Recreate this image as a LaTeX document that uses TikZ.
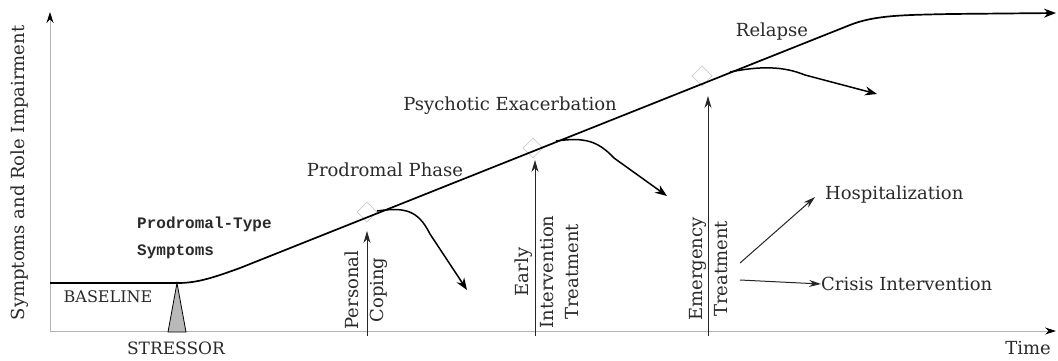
\documentclass[tikz,border=0pt]{standalone}
\usepackage{fontspec}
\setmainfont{DejaVu Serif}
\newfontfamily\monofam{Liberation Mono}
\usetikzlibrary{arrows.meta}
\definecolor{txt}{HTML}{2a2a2a}
\begin{document}
\begin{tikzpicture}[x=1pt,y=-1pt,
  lbl/.style={text=txt,inner sep=0pt,font=\fontsize{18}{25}\selectfont},
  monolbl/.style={text=txt,inner sep=0pt,font=\monofam\bfseries\fontsize{16}{27}\selectfont},
  rlbl/.style={lbl,rotate=90,align=center},
  axis/.style={gray!60,line width=0.8pt,-{Stealth[black,length=11pt,width=7pt]}},
  curve/.style={black,line width=1.7pt},
  arr/.style={black,line width=1.5pt,-{Stealth[length=12pt,width=9pt]}},
  varr/.style={black!85,line width=1pt,-{Stealth[length=12pt,width=7pt]}},
  diamark/.style={draw=gray!40,line width=0.8pt,shape=rectangle,rotate=45,minimum size=14pt,inner sep=0pt}
]
\useasboundingbox (0,0) rectangle (1058,360);
\fill[white] (0,0) rectangle (1058,360);
% axes
\coordinate (O) at (50,331);
\coordinate (ytop) at (50,12);
\coordinate (xend) at (1056,331);
\draw[axis] (O) -- (ytop);
\draw[axis] (O) -- (xend);
% diamonds
\node[diamark] (d1) at (367,212) {};
\node[diamark] (d2) at (533,148) {};
\node[diamark] (d3) at (702,76) {};
% main curve
\coordinate (b0) at (50,283);
\coordinate (b1) at (178,283);
\coordinate (c1) at (850,25);
\coordinate (cend) at (1056,13);
\draw[curve,-{Stealth[length=12pt,width=9pt]}] (b0) -- (b1) .. controls (198,283) and (215,277) .. (240,268) -- (c1) .. controls (875,15) and (905,15) .. (950,14) -- (cend);
% branches
\coordinate (e1) at (467,290);
\coordinate (e2) at (667,196);
\coordinate (e3) at (877,94);
\draw[arr] (377,211) .. controls (405,207) and (418,210) .. (430,234) -- (e1);
\draw[arr] (556,141) .. controls (585,137) and (598,141) .. (614,158) -- (e2);
\draw[arr] (730,72) .. controls (760,66) and (783,66) .. (805,75) -- (e3);
% vertical intervention arrows
\coordinate (v1) at (367,336);
\coordinate (v2) at (535,336);
\coordinate (v3) at (708,336);
\coordinate (t1) at (367,231);
\coordinate (t2) at (535,160);
\coordinate (t3) at (708,96);
\draw[varr] (v1) -- (t1);
\draw[varr] (v2) -- (t2);
\draw[varr] (v3) -- (t3);
% stressor
\coordinate (sa) at (177,283);
\draw[fill=gray!55,draw=black,line width=0.8pt] (sa) -- (186,332) -- (168,332) -- cycle;
% labels
\node[lbl] (relapse) at (772,32) {Relapse};
\node[lbl] (psy) at (510,106) {Psychotic Exacerbation};
\node[lbl] (prod) at (385,170) {Prodromal Phase};
\node[monolbl,align=left,anchor=west] (pts) at (137,238) {Prodromal-Type\\Symptoms};
\node[lbl,font=\fontsize{16}{20}\selectfont] (base) at (108,297) {BASELINE};
\node[lbl,font=\fontsize{17}{20}\selectfont] (stress) at (176,348) {STRESSOR};
\node[lbl] (time) at (1028,348) {Time};
\node[lbl,rotate=90] (ylab) at (20,173) {Symptoms and Role Impairment};
\node[rlbl] (pc) at (366,290) {Personal\\Coping};
\node[rlbl] (eit) at (547,272) {Early\\Intervention\\Treatment};
\node[rlbl] (et) at (709,269) {Emergency\\Treatment};
\node[lbl,anchor=west] (hosp) at (825,195) {Hospitalization};
\node[lbl,anchor=west] (crisis) at (821,284) {Crisis Intervention};
\coordinate (h0) at (740,263);
\coordinate (k0) at (740,280);
\draw[varr] (h0) -- (815,197);
\draw[varr] (k0) -- (crisis.west);
\end{tikzpicture}
\end{document}
